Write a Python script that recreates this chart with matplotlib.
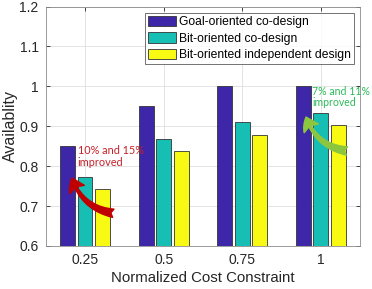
import numpy as np
import matplotlib
matplotlib.use("Agg")
import matplotlib.pyplot as plt
from matplotlib.patches import FancyArrowPatch

# ---------------------------------------------------------------- data
categories = ["0.25", "0.5", "0.75", "1"]
goal_codesign = [0.851, 0.951, 1.0, 1.0]
bit_codesign = [0.772, 0.869, 0.910, 0.932]
bit_independent = [0.742, 0.837, 0.878, 0.903]
series_names = ["Goal-oriented co-design", "Bit-oriented co-design",
                "Bit-oriented independent design"]
yticks = [0.6, 0.7, 0.8, 0.9, 1.0, 1.1, 1.2]
ytick_labels = ["0.6", "0.7", "0.8", "0.9", "1", "1.1", "1.2"]

colors = ["#3E26A8", "#17BEB4", "#F8FA14"]
axcol = "#262626"

plt.rcParams["font.family"] = ["Liberation Sans", "DejaVu Sans"]

fig = plt.figure(figsize=(3.72, 2.89), dpi=100)
ax = fig.add_axes([0.1228, 0.1488, 0.9685 - 0.1228, 0.9775 - 0.1488])

x = np.arange(1, len(categories) + 1)
w, off = 0.19, 0.222
for i, (vals, name) in enumerate(zip([goal_codesign, bit_codesign, bit_independent],
                                     series_names)):
    ax.bar(x + (i - 1) * off, vals, width=w, bottom=0, color=colors[i],
           edgecolor="#333333", linewidth=0.6, label=name, zorder=2)

ax.set_xlim(0.5, 4.5)
ax.set_ylim(0.6, 1.2)
ax.set_xticks(x)
ax.set_xticklabels(categories)
ax.set_yticks(yticks)
ax.set_yticklabels(ytick_labels)
ax.grid(True, color="#dedede", linewidth=0.6, zorder=0)
ax.set_axisbelow(True)
ax.tick_params(direction="in", length=3, width=0.6, colors=axcol,
               labelsize=10, top=True, right=True, labelcolor=axcol, pad=5)
for s in ax.spines.values():
    s.set_color("#8a8a8a")
    s.set_linewidth(0.6)
ax.set_xlabel("Normalized Cost Constraint", fontsize=10.8, color=axcol, labelpad=3,
              family=["Liberation Sans Narrow", "Liberation Sans"])
ax.set_ylabel("Availablity", fontsize=11.5, color=axcol, labelpad=1)

leg = ax.legend(loc="upper right", bbox_to_anchor=(1.0, 1.0), fontsize=8.7,
                frameon=True, fancybox=False, edgecolor="#333333",
                handlelength=2.3, handleheight=1.0, handletextpad=0.3,
                borderpad=0.25, labelspacing=0.33, borderaxespad=0.5)
leg.get_frame().set_linewidth(0.6)
for t in leg.get_texts():
    t.set_color("black")

# annotations
ax.text(0.905, 0.852, "10% and 15%\nimproved", color="#C8202A", fontsize=7.8,
        family=["Lato", "DejaVu Sans"], va="top", ha="left", linespacing=1.1)
ax.text(3.885, 1.002, "7% and 11%\nimproved", color="#2DBB5A", fontsize=7.6,
        family=["Lato", "DejaVu Sans"], va="top", ha="left", linespacing=1.1)

style = "fancy,head_length=9,head_width=12,tail_width=6"
red_arrow = FancyArrowPatch((1.36, 0.682), (0.835, 0.770),
                            connectionstyle="arc3,rad=-0.3",
                            arrowstyle=style, color="#C00000", zorder=4,
                            mutation_scale=1.0, shrinkA=0, shrinkB=0)
ax.add_patch(red_arrow)
green_arrow = FancyArrowPatch((4.33, 0.838), (3.81, 0.923),
                              connectionstyle="arc3,rad=-0.3",
                              arrowstyle=style, color="#8CC63F", zorder=4,
                              mutation_scale=1.0, shrinkA=0, shrinkB=0)
ax.add_patch(green_arrow)

fig.savefig("out.png", dpi=100)
